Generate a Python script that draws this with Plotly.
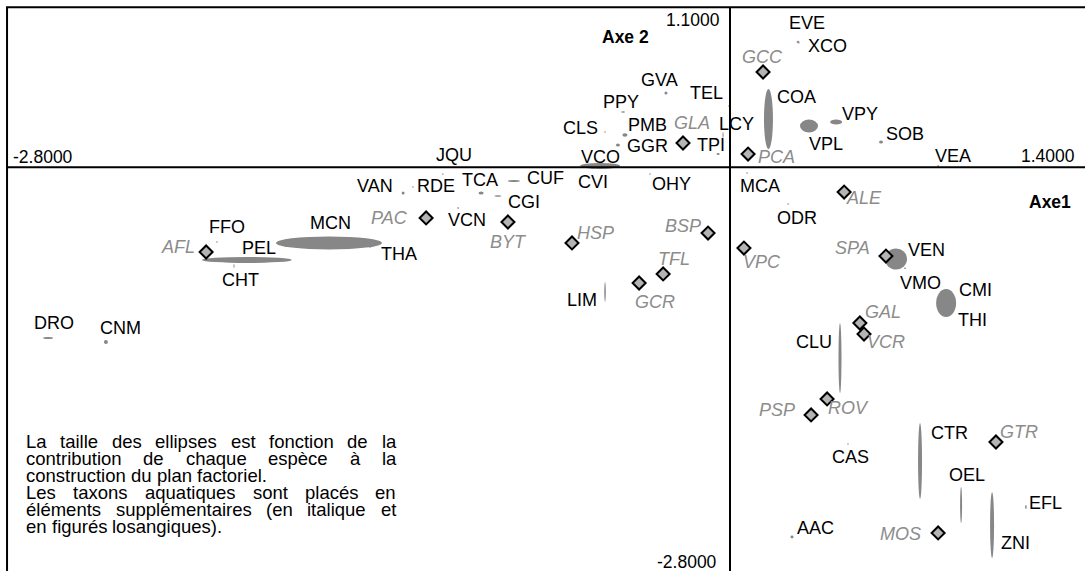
import plotly.graph_objects as go

# ---------------- data ----------------
species = ["EVE", "XCO", "COA", "VPL", "VPY", "SOB", "VEA", "LCY", "TEL", "TPI",
           "PMB", "GGR", "GVA", "PPY", "CLS", "VCO", "JQU", "CVI", "OHY", "CUF",
           "TCA", "CGI", "RDE", "VAN", "VCN", "MCN", "CHT", "PEL", "FFO", "THA",
           "DRO", "CNM", "LIM", "MCA", "ODR", "VEN", "VMO", "CMI", "THI", "CLU",
           "CTR", "CAS", "OEL", "ZNI", "EFL", "AAC"]
axe1 = [0.263, 0.266, 0.149, 0.306, 0.411, 0.585, 0.806, -0.004, -0.027, -0.046,
        -0.407, -0.434, -0.248, -0.414, -0.484, -0.503, -1.112, -0.534, -0.310, -0.837,
        -0.964, -0.899, -1.228, -1.266, -1.053, -1.553, -1.871, -1.921, -1.987, -1.394,
        -2.641, -2.417, -0.484, 0.066, 0.225, 0.643, 0.678, 0.837, 0.840, 0.426,
        0.736, 0.457, 0.895, 1.015, 1.146, 0.240]
axe2 = [0.861, 0.858, 0.332, 0.284, 0.311, 0.174, 0.009, 0.421, 0.222, 0.091,
        0.222, 0.153, 0.511, 0.380, 0.243, 0.009, -0.046, -0.005, -0.046, -0.094,
        -0.177, -0.197, -0.135, -0.177, -0.280, -0.520, -0.637, -0.678, -0.513, -0.548,
        -1.173, -1.201, -0.857, -0.039, -0.252, -0.630, -0.694, -0.933, -0.950, -1.311,
        -2.019, -1.902, -2.321, -2.458, -2.335, -2.541]
# ellipse half-axes (contribution of each species), in axis units
contrib1 = [0.005, 0.004, 0.0174, 0.0349, 0.0232, 0.0077, 0.004, 0.003, 0.002, 0.006,
            0.0097, 0.0077, 0.0058, 0.0077, 0.003, 0.0775, 0.003, 0.003, 0.003, 0.0232,
            0.0097, 0.0136, 0.003, 0.0058, 0.004, 0.205, 0.174, 0.002, 0.003, 0.004,
            0.0194, 0.0077, 0.003, 0.003, 0.003, 0.0426, 0.004, 0.0387, 0.004, 0.0058,
            0.0077, 0.003, 0.0039, 0.0077, 0.003, 0.0058]
contrib2 = [0.008, 0.007, 0.206, 0.0447, 0.0172, 0.0103, 0.005, 0.005, 0.02, 0.007,
            0.012, 0.0103, 0.0103, 0.005, 0.005, 0.0206, 0.005, 0.005, 0.005, 0.0069,
            0.0103, 0.005, 0.005, 0.0103, 0.005, 0.0447, 0.0206, 0.014, 0.005, 0.005,
            0.0069, 0.0137, 0.0687, 0.005, 0.005, 0.0722, 0.005, 0.0962, 0.005, 0.2405,
            0.261, 0.005, 0.1237, 0.2268, 0.0137, 0.0103]

supp_taxa = ["GCC", "PCA", "GLA", "PAC", "BYT", "HSP", "BSP", "TFL", "GCR", "AFL",
             "ALE", "VPC", "SPA", "GAL", "VCR", "ROV", "PSP", "GTR", "MOS"]
supp_axe1 = [0.128, 0.070, -0.182, -1.177, -0.860, -0.612, -0.085, -0.259, -0.352, -2.029,
             0.442, 0.054, 0.604, 0.503, 0.519, 0.376, 0.314, 1.030, 0.806]
supp_axe2 = [0.655, 0.091, 0.167, -0.348, -0.376, -0.520, -0.452, -0.733, -0.795, -0.582,
             -0.170, -0.555, -0.610, -1.070, -1.146, -1.592, -1.702, -1.888, -2.513]

axis_min, axis_max_x, axis_max_y = -2.8, 1.4, 1.1
tick_text = {"xmin": "-2.8000", "xmax": "1.4000", "ymax": "1.1000", "ymin": "-2.8000"}
axis_titles = {"x": "Axe1", "y": "Axe 2"}

note_lines = ["La taille des ellipses est fonction de la",
              "contribution de chaque espèce à la",
              "construction du plan factoriel.",
              "Les taxons aquatiques sont placés en",
              "éléments supplémentaires (en italique et",
              "en figurés losangiques)."]
note_justified = [True, True, False, True, True, False]

# ---------------- label placement (pixel offsets from the point) ----------------
species_label_offset = [(9, -19), (29, 4), (28, -22), (17, 18), (24, -8), (24, -8), (15, -10), (8, 18), (-17, -42), (-7, -9),
                        (23, -10), (30, 1), (-6, -13), (-2, -10), (-25, -4), (0, -9), (11, -19), (1, 14), (22, 10), (32, -3),
                        (-1, -13), (26, 6), (23, -1), (-28, -7), (9, 12), (1, -20), (-6, 20), (25, -18), (10, -15), (29, 7),
                        (6, -15), (15, -14), (-23, 8), (13, 13), (9, 14), (30, -9), (15, 15), (29, -13), (26, 14), (-26, -16),
                        (29, -28), (2, 13), (6, -30), (23, 18), (20, -4), (24, -9)]
supp_label_offset = [(-1, -15), (28, 3), (9, -20), (-37, 0), (1, 20), (24, -10), (-25, -7), (11, -15), (16, 19), (-28, -5),
                     (20, 6), (18, 14), (-33, -8), (23, -11), (22, 8), (21, 9), (-34, -5), (23, -10), (-38, 1)]

# ---------------- geometry ----------------
W, H = 1085, 571
PX_PER_UNIT_X, PX_PER_UNIT_Y = 258.2, 145.5
ORIGIN_PX_X, ORIGIN_PX_Y = 730.0, 167.3
x_range = [-ORIGIN_PX_X / PX_PER_UNIT_X, (W - ORIGIN_PX_X) / PX_PER_UNIT_X]
y_range = [-(H - ORIGIN_PX_Y) / PX_PER_UNIT_Y, ORIGIN_PX_Y / PX_PER_UNIT_Y]


def to_paper(xv, yv):
    """axis value -> paper fraction (plot area == whole figure)."""
    return ((xv - x_range[0]) / (x_range[1] - x_range[0]),
            (yv - y_range[0]) / (y_range[1] - y_range[0]))


FONT = "Arial, 'Liberation Sans', sans-serif"
FS = 18
ELLIPSE_COLOR = "#878787"
SUPP_TEXT = "#8c8c8c"

fig = go.Figure()

shapes = []
for i, name in enumerate(species):
    cx, cy, a, b = axe1[i], axe2[i], contrib1[i], contrib2[i]
    col = "#a58aa5" if name in ("EVE", "XCO") else ELLIPSE_COLOR
    shapes.append(dict(type="circle", xref="x", yref="y", layer="below",
                       x0=cx - a, x1=cx + a, y0=cy - b, y1=cy + b,
                       fillcolor=col, line=dict(width=0)))
# frame and axes
shapes.append(dict(type="rect", xref="x", yref="y", layer="below",
                   x0=axis_min, x1=axis_max_x, y0=axis_min, y1=axis_max_y,
                   line=dict(color="black", width=2), fillcolor="rgba(0,0,0,0)"))
shapes.append(dict(type="line", xref="x", yref="y", layer="below",
                   x0=axis_min, x1=axis_max_x, y0=0, y1=0, line=dict(color="black", width=2)))
shapes.append(dict(type="line", xref="x", yref="y", layer="below",
                   x0=0, x1=0, y0=axis_min, y1=axis_max_y, line=dict(color="black", width=2)))

fig.add_trace(go.Scatter(x=supp_axe1, y=supp_axe2, mode="markers",
                         marker=dict(symbol="diamond", size=10, color="#b4b4b4",
                                     line=dict(color="black", width=2)),
                         hoverinfo="text", text=supp_taxa))

ann = []
for i, name in enumerate(species):
    dx, dy = species_label_offset[i]
    ann.append(dict(x=axe1[i], y=axe2[i], xref="x", yref="y", text=name, showarrow=False,
                    xanchor="center", yanchor="middle", xshift=dx, yshift=-dy,
                    font=dict(family=FONT, size=FS, color="black")))
for i, name in enumerate(supp_taxa):
    dx, dy = supp_label_offset[i]
    ann.append(dict(x=supp_axe1[i], y=supp_axe2[i], xref="x", yref="y", text=name, showarrow=False,
                    xanchor="center", yanchor="middle", xshift=dx, yshift=-dy,
                    font=dict(family=FONT, size=FS, color=SUPP_TEXT, style="italic")))


def edge_label(text, xv, yv, xanchor, xshift, yshift, bold=False):
    px, py = to_paper(xv, yv)
    ann.append(dict(x=px, y=py, xref="paper", yref="paper",
                    text=("<b>%s</b>" % text) if bold else text, showarrow=False,
                    xanchor=xanchor, yanchor="middle", xshift=xshift, yshift=yshift,
                    font=dict(family=FONT, size=17.5, color="black")))


edge_label(tick_text["xmin"], axis_min, 0, "left", 4, 10)
edge_label(tick_text["xmax"], axis_max_x, 0, "right", -14, 11)
edge_label(tick_text["ymax"], 0, axis_max_y, "right", -8, -13)
edge_label(tick_text["ymin"], 0, axis_min, "right", -11, 13)
edge_label(axis_titles["y"], 0, axis_max_y, "center", -105, -30, bold=True)
edge_label(axis_titles["x"], axis_max_x, 0, "center", -41, -35, bold=True)

# justified note text (Arial advance widths, 1/1000 em)
CW = {' ': 278, '(': 333, ')': 333, '.': 278, ',': 278, 'L': 556,
      'a': 556, 'b': 556, 'c': 500, 'd': 556, 'e': 556, 'f': 278, 'g': 556, 'h': 556,
      'i': 222, 'j': 222, 'k': 500, 'l': 222, 'm': 833, 'n': 556, 'o': 556, 'p': 556,
      'q': 556, 'r': 333, 's': 500, 't': 278, 'u': 556, 'v': 500, 'w': 722, 'x': 500,
      'y': 500, 'z': 500, 'é': 556, 'è': 556, 'à': 556}
NOTE_FS = 18.5
NOTE_LEFT, NOTE_RIGHT, NOTE_TOP, NOTE_STEP = 25, 395, 441, 17


def text_w(s):
    return sum(CW.get(c, 556) for c in s) * NOTE_FS / 1000.0


for k, line in enumerate(note_lines):
    ypx = NOTE_TOP + k * NOTE_STEP
    words = line.split(" ")
    if note_justified[k] and len(words) > 1:
        gap = (NOTE_RIGHT - NOTE_LEFT - sum(text_w(w) for w in words)) / (len(words) - 1)
    else:
        gap = text_w(" ")
    xpx = NOTE_LEFT
    for w in words:
        ann.append(dict(x=xpx / W, y=1 - ypx / H, xref="paper", yref="paper", text=w,
                        showarrow=False, xanchor="left", yanchor="middle", borderpad=0,
                        font=dict(family=FONT, size=NOTE_FS, color="black")))
        xpx += text_w(w) + gap

fig.update_layout(
    width=W, height=H, margin=dict(l=0, r=0, t=0, b=0),
    paper_bgcolor="white", plot_bgcolor="white", showlegend=False,
    xaxis=dict(range=x_range, visible=False, fixedrange=True),
    yaxis=dict(range=y_range, visible=False, fixedrange=True),
    shapes=shapes, annotations=ann,
)
fig.write_html("out.html", config={"displayModeBar": False},
               post_script="document.body.style.margin='0';document.body.style.overflow='hidden';")
